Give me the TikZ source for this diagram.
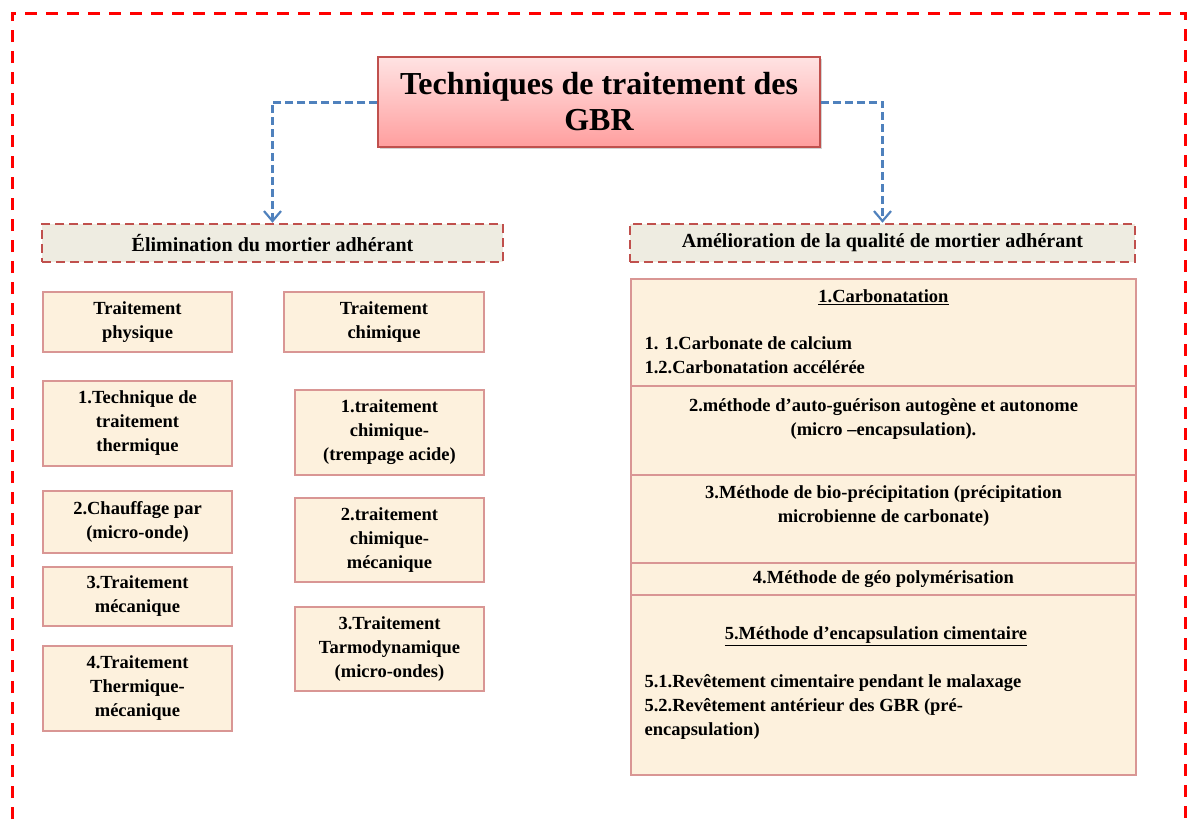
\documentclass[tikz,border=0pt]{standalone}
\usepackage{fontspec}
\setmainfont{Liberation Serif}
\usetikzlibrary{%
   arrows.meta,%
   positioning,%
   shadows%
}
\definecolor{framered}{HTML}{FF0000}
\definecolor{darkrose}{HTML}{C0504D}
\definecolor{lightrose}{HTML}{D99694}
\definecolor{linkblue}{HTML}{4F81BD}
\definecolor{headgray}{HTML}{EEECE1}
\definecolor{cream}{HTML}{FDF1DD}

\begin{document}
\begin{tikzpicture}[x=1pt,y=-1pt,titlebox/.style={
	rectangle,
	minimum width=442pt,
	minimum height=90pt,
	draw=darkrose,
	line width=1.5pt,
	top color=red!11,
	bottom color=red!38!white,
	drop shadow={opacity=0.35},
	align=center,
	font=\fontsize{32}{36}\selectfont\bfseries
	},headbox/.style={
	rectangle,minimum height=38pt,
	draw=darkrose,line width=2.5pt,dash pattern=on 9pt off 5pt,
	fill=headgray,
	font=\fontsize{20}{24}\selectfont\bfseries
	},itembox/.style={
	rectangle,
	draw=lightrose,line width=1.5pt,
	fill=cream,
	align=center,
	font=\fontsize{18.5}{24}\selectfont\bfseries
	},secbox/.style={
	rectangle,minimum width=505pt,
	draw=lightrose,line width=1.5pt,
	fill=cream
	},sectext/.style={
	align=center,
	font=\fontsize{18.5}{24}\selectfont\bfseries
	},listtext/.style={
	anchor=west,align=left,
	font=\fontsize{18.5}{24}\selectfont\bfseries
	},link/.style={
	draw=linkblue,line width=3pt,dash pattern=on 8pt off 4pt,
	-{Straight Barb[length=10pt,width=17pt,line width=2.2pt]}
	},frame/.style={
	draw=framered,line width=3pt,dash pattern=on 12pt off 9pt
	}
]

\useasboundingbox (0,0) rectangle (1187,823);
\draw[frame] (12,840) -- (12,13) -- (1185,13) -- (1185,840);

% Top and headers
\node (title) [titlebox] at (599,102) {Techniques de traitement des\\GBR};
\node (elim) [headbox,minimum width=461pt] at (272.5,243) {Élimination du mortier adhérant};
\node (amel) [headbox,minimum width=505pt] at (882.5,243) {Amélioration de la qualité de mortier adhérant};

% Physical column
\node (phys) [itembox,minimum width=189pt,minimum height=60pt] at (137.5,322) {Traitement\\physique};
\node (thermo) [itembox,minimum width=189pt,minimum height=85pt] at (137.5,423.5) {1.Technique de\\traitement\\thermique};
\node (micro) [itembox,minimum width=189pt,minimum height=62pt] at (137.5,522) {2.Chauffage par\\(micro-onde)};
\node (meca) [itembox,minimum width=189pt,minimum height=59pt] at (137.5,596.5) {3.Traitement\\mécanique};
\node (thmeca) [itembox,minimum width=189pt,minimum height=85pt] at (137.5,688.5) {4.Traitement\\Thermique-\\mécanique};

% Chemical column
\node (chim) [itembox,minimum width=200pt,minimum height=60pt] at (384,322) {Traitement\\chimique};
\node (acide) [itembox,minimum width=189pt,minimum height=85pt] at (389.5,432.5) {1.traitement\\chimique-\\(trempage acide)};
\node (chmeca) [itembox,minimum width=189pt,minimum height=84pt] at (389.5,540) {2.traitement\\chimique-\\mécanique};
\node (tarmo) [itembox,minimum width=189pt,minimum height=84pt] at (389.5,649) {3.Traitement\\Tarmodynamique\\(micro-ondes)};

% Quality column
\node (sec1) [secbox,minimum height=107pt] at (883.5,332.5) {};
\node (sec2) [secbox,minimum height=89pt] at (883.5,430.5) {};
\node (sec3) [secbox,minimum height=88pt] at (883.5,519) {};
\node (sec4) [secbox,minimum height=32pt] at (883.5,579) {};
\node (sec5) [secbox,minimum height=180pt] at (883.5,685) {};

\node (carb) [sectext] at (883.5,297) {\underline{1.Carbonatation}};
\node (carblist) [listtext] at (641,355) {1. 1.Carbonate de calcium\\1.2.Carbonatation accélérée};
\node (auto) [sectext] at (883.5,419.5) {2.méthode d’auto-guérison autogène et autonome\\(micro –encapsulation).};
\node (bio) [sectext] at (883.5,506) {3.Méthode de bio-précipitation (précipitation\\microbienne de carbonate)};
\node (geo) [sectext] at (883.5,579) {4.Méthode de géo polymérisation};
\node (encap) [sectext] at (876,636) {\underline{5.Méthode d’encapsulation cimentaire}};
\node (encaplist) [listtext] at (641,707) {5.1.Revêtement cimentaire pendant le malaxage\\5.2.Revêtement antérieur des GBR (pré-\\encapsulation)};

\path	(title.west) edge[link,to path={-| (\tikztotarget)}] (elim.north)
	(title.east) edge[link,to path={-| (\tikztotarget)}] (amel.north);

\end{tikzpicture}
\end{document}
